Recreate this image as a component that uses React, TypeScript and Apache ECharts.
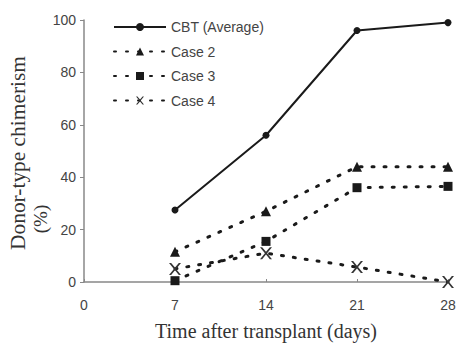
import React, { useEffect, useRef } from "react";
import * as echarts from "echarts";

const days = [7, 14, 21, 28];
const cbtAverage = [27.5, 56, 96, 99];
const case2 = [11.5, 27, 44, 44];
const case3 = [0.5, 15.5, 36, 36.5];
const case4 = [5, 11, 5.7, 0];
const seriesNames = ["CBT (Average)", "Case 2", "Case 3", "Case 4"];
const xTicks = [0, 7, 14, 21, 28];
const yTicks = [0, 20, 40, 60, 80, 100];

const xShape =
  "path://M0,0L1.8,0L5,3.9L8.2,0L10,0L5.9,5L10,10L8.2,10L5,6.1L1.8,10L0,10L4.1,5Z";

export default function App() {
  const ref = useRef<HTMLDivElement>(null);
  useEffect(() => {
    if (!ref.current) return;
    const chart = echarts.init(ref.current, undefined, { renderer: "svg" });
    const ink = "#1a1a1a";
    const dashed = { color: ink, width: 3, type: [2, 10] as number[], cap: "round" as const };
    const zip = (ys: number[]) => days.map((d, i) => [d, ys[i]]);
    chart.setOption({
      animation: false,
      backgroundColor: "#fff",
      grid: {
        left: 84,
        right: 10,
        top: 20,
        bottom: 61,
        containLabel: false,
        outerBoundsMode: "none",
      },
      legend: {
        orient: "vertical",
        left: 108,
        top: 15,
        itemWidth: 52,
        itemHeight: 10,
        itemGap: 10.5,
        data: seriesNames,
        textStyle: { fontFamily: "Liberation Sans", fontSize: 14, color: "#444" },
      },
      xAxis: {
        type: "value",
        min: xTicks[0],
        max: xTicks[xTicks.length - 1],
        interval: 7,
        axisLine: { lineStyle: { color: "#888", width: 1.5 } },
        axisTick: { show: true, inside: true, length: 3, lineStyle: { color: "#888" } },
        splitLine: { show: false },
        axisLabel: { fontFamily: "Liberation Sans", fontSize: 14, color: "#444", margin: 16 },
        name: "Time after transplant (days)",
        nameLocation: "middle",
        nameGap: 39,
        nameTextStyle: { fontFamily: "Liberation Serif", fontSize: 20, color: "#333" },
      },
      yAxis: {
        type: "value",
        min: yTicks[0],
        max: yTicks[yTicks.length - 1],
        interval: 20,
        axisLine: { show: true, lineStyle: { color: "#888", width: 1.5 } },
        axisTick: { show: true, length: 4, lineStyle: { color: "#888" } },
        splitLine: { show: false },
        axisLabel: { fontFamily: "Liberation Sans", fontSize: 14, color: "#444", margin: 8 },
      },
      graphic: [
        {
          type: "text",
          x: 18,
          y: 153,
          rotation: Math.PI / 2,
          scaleX: 1.07,
          style: {
            text: "Donor-type chimerism",
            font: "20px 'Liberation Serif'",
            fill: "#333",
            align: "center",
            verticalAlign: "middle",
          },
        },
        {
          type: "text",
          x: 40,
          y: 219,
          rotation: Math.PI / 2,
          style: {
            text: "(%)",
            font: "19px 'Liberation Serif'",
            fill: "#333",
            align: "center",
            verticalAlign: "middle",
          },
        },
      ],
      series: [
        {
          name: seriesNames[0],
          type: "line",
          data: zip(cbtAverage),
          symbol: "circle",
          symbolSize: 7,
          itemStyle: { color: ink },
          lineStyle: { color: ink, width: 2 },
        },
        {
          name: seriesNames[1],
          type: "line",
          data: zip(case2),
          symbol: "triangle",
          symbolSize: 10,
          itemStyle: { color: ink },
          lineStyle: dashed,
        },
        {
          name: seriesNames[2],
          type: "line",
          data: zip(case3),
          symbol: "rect",
          symbolSize: 9,
          itemStyle: { color: ink },
          lineStyle: dashed,
        },
        {
          name: seriesNames[3],
          type: "line",
          data: zip(case4),
          symbol: xShape,
          symbolSize: 12,
          itemStyle: { color: "#333" },
          lineStyle: dashed,
        },
      ],
    });
    return () => chart.dispose();
  }, []);
  return <div ref={ref} style={{ width: 458, height: 343, position: "absolute", left: 0, top: 0 }} />;
}
